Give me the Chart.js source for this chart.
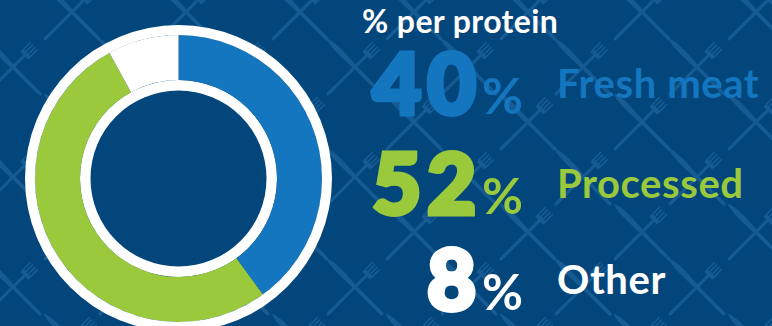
<!DOCTYPE html>
<html lang="en">
<head>
  <meta charset="UTF-8" />
  <title>% per protein</title>
  <script src="https://cdn.jsdelivr.net/npm/chart.js"></script>
  <style>
    html, body { margin: 0; padding: 0; }
    body {
      width: 772px; height: 326px; overflow: hidden; position: relative;
      background-color: #03467c;
      font-family: Lato, "Open Sans", sans-serif;
    }
    #wrap { position: absolute; left: 25px; top: 25px; width: 307px; height: 307px; }
    #title {
      position: absolute; left: 362px; top: 5px;
      color: #fff; font-weight: 700; font-size: 32px; line-height: 1; letter-spacing: 0.4px;
    }
    .row { position: absolute; left: 340px; width: 432px; white-space: nowrap; line-height: 1; }
    .num {
      display: inline-block; width: 183px; text-align: right;
      font-weight: 900; font-size: 84px;
    }
    .dig { -webkit-text-stroke: 5px currentColor; letter-spacing: 6px; }
    .pct { font-size: 50px; font-weight: 700; }
    .lab {
      display: inline-block; position: relative; top: -16px; margin-left: 34px;
      font-weight: 700; font-size: 40px; letter-spacing: 0.6px;
    }
  </style>
</head>
<body>
  <div id="wrap"><canvas id="donut"></canvas></div>
  <div id="title"></div>
  <div id="legend"></div>

  <script>
    // values
    const categories = ["Fresh meat", "Processed", "Other"];
    const shares = [40, 52, 8];
    const sliceColors = ["#1476bf", "#9aca3c", "#ffffff"];
    const chartTitle = "% per protein";

    const navy = "#03467c";

    // fork & knife background tile
    function crossSvg(x, y) {
      return `<g transform="translate(${x} ${y})" fill="#175b94" stroke="#175b94">
        <g transform="rotate(45)">
          <line x1="0" y1="0" x2="38" y2="0" stroke-width="3.5" stroke-linecap="round"/>
          <path d="M-40 0 Q-36 -3 -20 -3 L0 -2 L0 2 L-20 2.6 Q-36 2.5 -40 0Z" stroke="none"/>
        </g>
        <g transform="rotate(-45)">
          <line x1="-38" y1="0" x2="17" y2="0" stroke-width="3" stroke-linecap="round"/>
          <path d="M16 -5.5 L20 -5.5 L20 5.5 L16 5.5Z" stroke="none"/>
          <line x1="19" y1="-5" x2="30" y2="-5" stroke-width="1.5"/>
          <line x1="19" y1="-1.7" x2="30" y2="-1.7" stroke-width="1.5"/>
          <line x1="19" y1="1.7" x2="30" y2="1.7" stroke-width="1.5"/>
          <line x1="19" y1="5" x2="30" y2="5" stroke-width="1.5"/>
        </g>
      </g>`;
    }
    (function () {
      const w = 114, h = 110;
      let parts = "";
      [[72, 12], [13, 67]].forEach(([cx, cy]) => {
        for (let dx = -1; dx <= 1; dx++)
          for (let dy = -1; dy <= 1; dy++)
            parts += crossSvg(cx + dx * w, cy + dy * h);
      });
      const svg = `<svg xmlns="http://www.w3.org/2000/svg" width="${w}" height="${h}">${parts}</svg>`;
      document.body.style.backgroundImage = `url("data:image/svg+xml,${encodeURIComponent(svg)}")`;
    })();

    document.getElementById("title").textContent = chartTitle;

    const rowTops = [40, 140, 236];
    const legend = document.getElementById("legend");
    categories.forEach((name, i) => {
      const row = document.createElement("div");
      row.className = "row";
      row.style.top = rowTops[i] + "px";
      row.style.color = sliceColors[i];
      row.innerHTML = `<span class="num"><span class="dig">${shares[i]}</span><span class="pct">%</span></span><span class="lab">${name}</span>`;
      legend.appendChild(row);
    });

    // plain navy disc inside the inner white ring
    const centerFill = {
      id: "centerFill",
      beforeDatasetsDraw(chart) {
        const arc = chart.getDatasetMeta(2).data[0];
        if (!arc) return;
        const ctx = chart.ctx;
        ctx.save();
        ctx.fillStyle = navy;
        ctx.beginPath();
        ctx.arc(arc.x, arc.y, arc.innerRadius, 0, Math.PI * 2);
        ctx.fill();
        ctx.restore();
      }
    };

    new Chart(document.getElementById("donut"), {
      type: "doughnut",
      data: {
        labels: categories,
        datasets: [
          { data: [100], backgroundColor: "#ffffff", weight: 10, borderWidth: 0, hoverOffset: 0 },
          { data: shares, backgroundColor: sliceColors, weight: 45, borderWidth: 0, hoverOffset: 0 },
          { data: [100], backgroundColor: "#ffffff", weight: 10.5, borderWidth: 0, hoverOffset: 0 }
        ]
      },
      options: {
        responsive: true,
        maintainAspectRatio: false,
        animation: false,
        cutout: 88,
        layout: { padding: 0 },
        plugins: { legend: { display: false }, tooltip: { enabled: false } }
      },
      plugins: [centerFill]
    });
  </script>
</body>
</html>
